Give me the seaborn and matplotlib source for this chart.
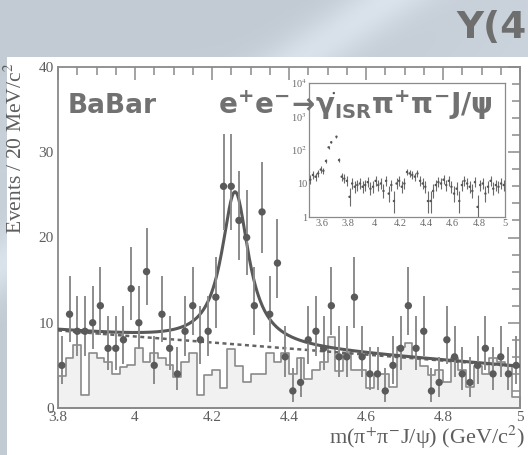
import numpy as np
import pandas as pd
import matplotlib
matplotlib.use("Agg")
import matplotlib.pyplot as plt
import seaborn as sns
from matplotlib.ticker import MultipleLocator, FixedLocator, LogLocator, NullFormatter
from matplotlib.patches import Rectangle

sns.set_theme(style="white")
plt.rcParams["font.family"] = ["Liberation Serif", "DejaVu Serif"]
plt.rcParams["mathtext.fontset"] = "stix"

# ---- pi+ pi- J/psi mass spectrum, 20 MeV/c^2 bins from 3.80 to 5.00 GeV/c^2 ----
bin_low = 3.80
bin_width = 0.02
signal_counts = [5, 11, 9, 9, 10, 12, 7, 7, 8, 14,
                 10, 16, 5, 11, 7, 4, 9, 12, 8, 9,
                 13, 26, 26, 22, 20, 12, 23, 11, 17, 6,
                 2, 3, 8, 9, 7, 12, 6, 6, 13, 6,
                 4, 4, 2, 5, 7, 12, 7, 9, 2, 3,
                 8, 6, 4, 3, 5, 7, 4, 6, 4, 5]
# J/psi sideband estimate
sideband_counts = [3.7, 5.9, 7.4, 1.5, 6.4, 5.9, 5.4, 4.0, 4.8, 5.0,
                   7.0, 5.4, 6.5, 5.9, 5.0, 3.6, 5.4, 6.4, 1.5, 3.9,
                   4.5, 2.4, 6.9, 4.9, 3.0, 4.0, 4.0, 6.4, 5.4, 6.4,
                   4.0, 5.9, 3.4, 4.5, 5.4, 8.3, 4.3, 6.4, 4.5, 4.5,
                   2.4, 4.0, 4.0, 2.5, 7.1, 7.6, 6.0, 4.9, 3.9, 4.5,
                   3.0, 5.9, 4.5, 2.5, 4.9, 4.0, 5.9, 5.4, 4.9, 1.3]

# fit result: Breit-Wigner on a linear background
peak_mass = 4.26
peak_width = 0.085
peak_height = 17.9
bkg_at_low = 9.1
bkg_slope = -3.54

# ---- inset: full range 3.5 - 5.0 GeV/c^2 including psi(2S) ----
inset_low = 3.50
inset_counts = [13, 18, 16, 20, 26, 24, 47, 120, 170, 5000,
                250, 50, 16, 14, 12,
                4, 10, 8, 9, 10, 8, 9, 11, 7, 8,
                12, 9, 10, 6, 12, 5, 9, 3, 10, 12,
                8, 10, 22, 20, 18, 16, 20, 12, 10, 8,
                3, 3, 6, 9, 11, 10, 13, 9, 12, 8,
                5, 7, 3, 9, 12, 10, 8, 6, 11, 2,
                9, 10, 5, 8, 12, 7, 9, 8, 10, 9]

x_ticks = [3.8, 4.0, 4.2, 4.4, 4.6, 4.8, 5.0]
x_ticklabels = ["3.8", "4", "4.2", "4.4", "4.6", "4.8", "5"]
y_ticks = [0, 10, 20, 30, 40]
inset_x_ticks = [3.6, 3.8, 4.0, 4.2, 4.4, 4.6, 4.8, 5.0]
inset_x_ticklabels = ["3.6", "3.8", "4", "4.2", "4.4", "4.6", "4.8", "5"]

# ---- derived tables ----
n_bins = len(signal_counts)
edges = bin_low + bin_width * np.arange(n_bins + 1)
centers = edges[:-1] + bin_width / 2
counts = np.array(signal_counts, dtype=float)
err_lo = np.sqrt(np.maximum(counts - 0.25, 0))
err_hi = 1 + np.sqrt(counts + 0.75)
spectrum = pd.DataFrame({"mass": centers, "events": counts,
                         "sideband": sideband_counts})

m_grid = np.linspace(edges[0], edges[-1], 600)
bkg = bkg_at_low + bkg_slope * (m_grid - bin_low)
bw = peak_height / (1 + (2 * (m_grid - peak_mass) / peak_width) ** 2)
fit = pd.DataFrame({"mass": m_grid, "total": bkg + bw, "background": bkg})

n_in = len(inset_counts)
in_edges = inset_low + bin_width * np.arange(n_in + 1)
in_centers = in_edges[:-1] + bin_width / 2
in_counts = np.array(inset_counts, dtype=float)
in_lo = np.minimum(np.sqrt(np.maximum(in_counts - 0.25, 0)), in_counts * 0.7)
in_hi = 1 + np.sqrt(in_counts + 0.75)
inset_df = pd.DataFrame({"mass": in_centers, "events": in_counts})

W, H = 528, 455
fig = plt.figure(figsize=(W / 100, H / 100), dpi=100)

# slide background
ax_bg = fig.add_axes([0, 0, 1, 1], zorder=-10)
yy, xx = np.mgrid[0:H, 0:W]
base = np.array([194.0, 203.0, 211.0])
band = np.exp(-((xx + 1.45 * yy - 385) / 45.0) ** 2) * 22
right = np.clip((xx - 330) / 200.0, 0, 1) * 8
side = np.exp(-((yy - 170) / 90.0) ** 2) * 6
img = base[None, None, :] + (band + right + side)[:, :, None]
ax_bg.imshow(np.clip(img, 0, 255).astype(np.uint8), extent=[0, 1, 0, 1],
             aspect="auto", origin="upper")
ax_bg.add_patch(Rectangle((7 / W, 0), 1, (H - 57) / H, transform=ax_bg.transAxes,
                          facecolor="white", edgecolor="none"))
ax_bg.set_axis_off()

grey_txt = "#5e5e5e"
grey_line = "#8a8a8a"

# ---- main axes ----
ax = fig.add_axes([58 / W, 1 - 408 / H, 462 / W, 341 / H])
ax.set_facecolor("none")
sns.histplot(data=spectrum, x="mass", weights="sideband",
             binwidth=bin_width, binrange=(edges[0], edges[-1]),
             element="step", fill=True, color="#f1f1f1", edgecolor=grey_line,
             linewidth=1.2, alpha=1, ax=ax, zorder=1)
sns.lineplot(data=fit, x="mass", y="background", ax=ax, color="#646464",
             linewidth=1.8, zorder=3)
ax.lines[-1].set_dashes((1.6, 1.4))
sns.lineplot(data=fit, x="mass", y="total", ax=ax, color="#595959",
             linewidth=2.2, zorder=4)
ax.errorbar(centers, counts, yerr=[err_lo, err_hi], fmt="none",
            ecolor="#8c8c8c", elinewidth=1.4, capsize=0, zorder=5)
sns.scatterplot(data=spectrum, x="mass", y="events", ax=ax, color="#5a5a5a",
                s=28, edgecolor="none", zorder=6)

ax.set_xlim(3.8, 5.0)
ax.set_ylim(0, 40)
ax.xaxis.set_major_locator(FixedLocator(x_ticks))
ax.set_xticklabels(x_ticklabels)
ax.xaxis.set_minor_locator(MultipleLocator(0.05))
ax.yaxis.set_major_locator(FixedLocator(y_ticks))
ax.yaxis.set_minor_locator(MultipleLocator(2))
ax.tick_params(which="both", direction="in", top=True, right=True,
               color=grey_line, width=1.1, labelcolor=grey_txt, labelsize=11)
ax.tick_params(which="major", length=9)
ax.tick_params(which="minor", length=5.5)
ax.tick_params(axis="x", pad=2)
ax.tick_params(axis="y", pad=3)
for sp in ax.spines.values():
    sp.set_color(grey_line)
    sp.set_linewidth(1.3)
ax.set_xlabel("")
ax.set_ylabel("")

fig.text(16 / W, 1 - 63 / H, "Events / 20 MeV/c$^{2}$", rotation=90,
         ha="center", va="top", fontsize=15.5, color=grey_txt)
fig.text(525 / W, 1 - 437 / H, "m(π$^{+}$π$^{-}$J/ψ) (GeV/c$^{2}$)",
         ha="right", va="center", fontsize=16, color=grey_txt)

# ---- inset ----
ax_in = fig.add_axes([309 / W, 1 - 217 / H, 196 / W, 134 / H])
ax_in.set_facecolor("white")
ax_in.set_yscale("log")
ax_in.errorbar(in_centers, in_counts, yerr=[in_lo, in_hi], fmt="none",
               ecolor="#6a6a6a", elinewidth=0.8, capsize=0, zorder=3)
sns.scatterplot(data=inset_df, x="mass", y="events", ax=ax_in, color="#555555",
                s=3, edgecolor="none", zorder=4)
ax_in.set_xlim(3.5, 5.0)
ax_in.set_ylim(1, 1e4)
ax_in.xaxis.set_major_locator(FixedLocator(inset_x_ticks))
ax_in.set_xticklabels(inset_x_ticklabels)
ax_in.xaxis.set_minor_locator(MultipleLocator(0.05))
ax_in.yaxis.set_major_locator(FixedLocator([1, 10, 100, 1000, 10000]))
ax_in.set_yticklabels(["1", "10", "10$^{2}$", "10$^{3}$", "10$^{4}$"])
ax_in.yaxis.set_minor_locator(LogLocator(base=10, subs=np.arange(2, 10)))
ax_in.yaxis.set_minor_formatter(NullFormatter())
ax_in.tick_params(which="both", direction="in", top=False, right=False,
                  color="#8a8a8a", width=0.7, labelcolor="#6a6a6a", labelsize=7.5)
ax_in.tick_params(which="major", length=4, pad=1.5)
ax_in.tick_params(which="minor", length=2)
for sp in ax_in.spines.values():
    sp.set_color("#8a8a8a")
    sp.set_linewidth(0.9)
ax_in.set_xlabel("")
ax_in.set_ylabel("")

# ---- annotations ----
fig.text(68 / W, 1 - 113 / H, "BaBar", fontsize=19, fontweight="bold",
         family="DejaVu Sans", color="#717171", va="baseline", zorder=10)
fig.text(218 / W, 1 - 114 / H,
         r"$\mathbf{e^{+}e^{-}\!\rightarrow\!\gamma_{ISR}\pi^{+}\pi^{-}J/\psi}$",
         fontsize=20, color="#717171", va="baseline", math_fontfamily="dejavusans",
         zorder=10)
fig.text(527 / W, 1 - 28 / H, "Y(4", fontsize=27, fontweight="bold",
         family="DejaVu Sans", color="#6e6e6e", va="center", ha="right", zorder=10)

fig.savefig("out.png", dpi=100)
